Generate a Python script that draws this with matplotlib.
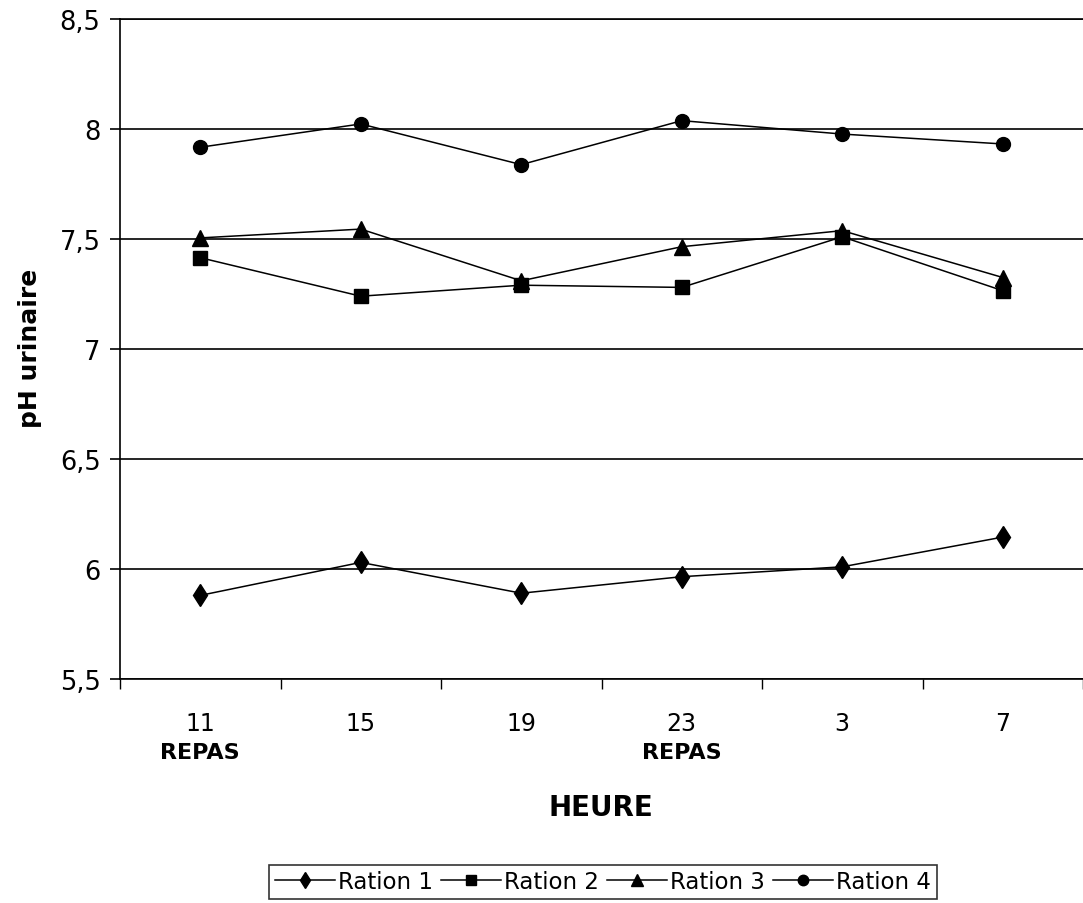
import matplotlib.pyplot as plt
from matplotlib.ticker import FuncFormatter, MultipleLocator
from matplotlib.transforms import blended_transform_factory

# heures de prélèvement (catégories) et repas
heures = ["11", "15", "19", "23", "3", "7"]
repas = ["REPAS", "", "", "REPAS", "", ""]

# pH urinaire
ration_1 = [5.88, 6.03, 5.89, 5.965, 6.01, 6.145]
ration_2 = [7.415, 7.24, 7.29, 7.28, 7.51, 7.265]
ration_3 = [7.505, 7.545, 7.31, 7.465, 7.538, 7.325]
ration_4 = [7.917, 8.023, 7.838, 8.038, 7.977, 7.932]

series = [
    ("Ration 1", ration_1, "d", 11.5),
    ("Ration 2", ration_2, "s", 10),
    ("Ration 3", ration_3, "^", 11),
    ("Ration 4", ration_4, "o", 10),
]

plt.rcParams["font.family"] = ["DejaVu Sans"]

fig = plt.figure(figsize=(10.83, 9.04), dpi=100)
ax = fig.add_axes([120 / 1083, 1 - 680 / 904, 1 - 120 / 1083, 660 / 904])

x = list(range(len(heures)))
for name, vals, marker, ms in series:
    ax.plot(x, vals, color="black", lw=1.1, marker=marker, markersize=ms,
            markerfacecolor="black", markeredgecolor="black", label=name, zorder=3)

ax.set_ylim(5.5, 8.5)
ax.set_xlim(-0.5, len(heures) - 0.5)
ax.yaxis.set_major_locator(MultipleLocator(0.5))
ax.yaxis.set_major_formatter(FuncFormatter(lambda v, p: f"{v:g}".replace(".", ",")))
ax.grid(axis="y", color="black", lw=1.2)
ax.set_axisbelow(True)

ax.spines["right"].set_visible(False)
for side in ["left", "bottom", "top"]:
    ax.spines[side].set_linewidth(1.2)

ax.tick_params(axis="y", direction="out", length=7, width=1.2, pad=7, labelsize=18.5)
ax.set_xticks(x)
ax.set_xticklabels(heures)
ax.set_xticks([i - 0.5 for i in x] + [len(heures) - 0.5], minor=True)
ax.tick_params(axis="x", which="major", length=0, pad=23, labelsize=17)
ax.tick_params(axis="x", which="minor", direction="out", length=7, width=1)

trans = blended_transform_factory(ax.transData, ax.transAxes)
for i, lab in enumerate(repas):
    if lab:
        ax.text(i, -0.11, lab, transform=trans, ha="center", va="center",
                fontsize=16, fontweight="bold")

# titres des axes placés comme dans l'original
fig.text(601 / 1083, 1 - 808 / 904, "HEURE", ha="center", va="center",
         fontsize=20, fontweight="bold")
fig.text(30 / 1083, 1 - 348 / 904, "pH urinaire", ha="center", va="center",
         rotation=90, fontsize=18, fontweight="bold")

leg = fig.legend(loc="center", bbox_to_anchor=(603 / 1083, 1 - 883 / 904), ncol=4,
                 fontsize=16.5, frameon=True, fancybox=False, edgecolor="black",
                 handlelength=2.6, handletextpad=0.15, columnspacing=0.35,
                 markerscale=0.75, borderpad=0.25, borderaxespad=0)
leg.get_frame().set_linewidth(1.2)

fig.savefig("out.png", dpi=100)
